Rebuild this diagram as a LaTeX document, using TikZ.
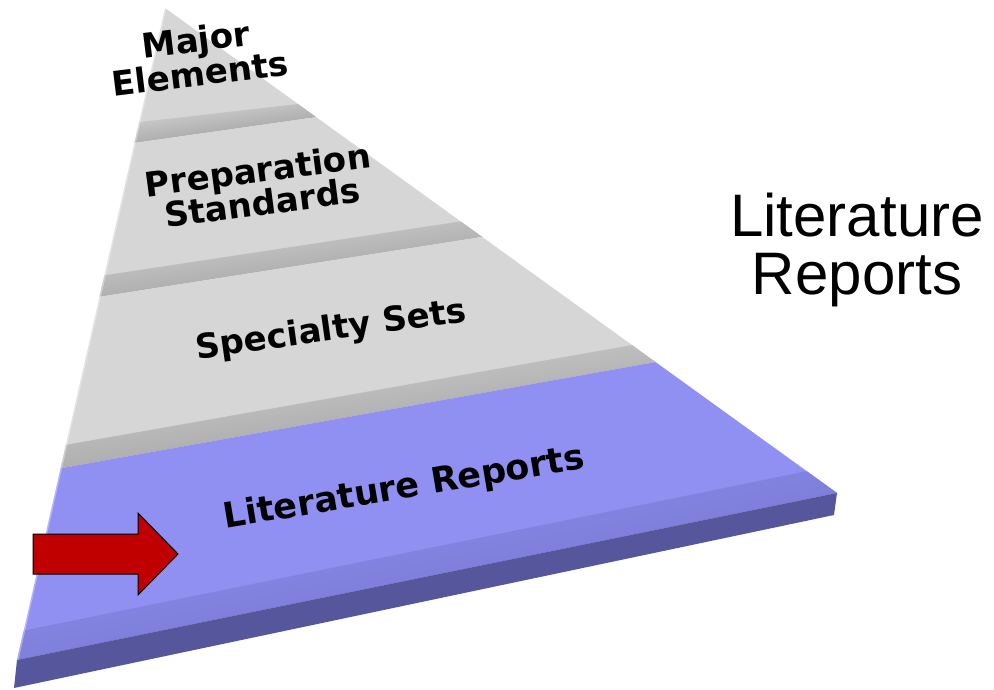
\documentclass[tikz,border=0pt]{standalone}
\usepackage{fontspec}
\setmainfont{Liberation Sans}
\newfontfamily\stepfont{DejaVu Sans}
\usetikzlibrary{calc}

\definecolor{facegray}{RGB}{214,214,214}
\definecolor{risergray}{RGB}{150,150,150}
\definecolor{faceblue}{RGB}{144,144,242}
\definecolor{bevelblue}{RGB}{112,112,200}
\definecolor{frontblue}{RGB}{86,86,156}
\definecolor{arrowred}{RGB}{192,0,0}

\tikzset{
  band/.style={fill=facegray, draw=none},
  riser/.style={top color=facegray, bottom color=risergray, shading angle=8, draw=none},
  steplabel/.style={font=\stepfont\bfseries\fontsize{34}{33}\selectfont, align=center, inner sep=0pt, text=black},
}

\begin{document}
\begin{tikzpicture}[x=1pt, y=-1pt]
\useasboundingbox (0,0) rectangle (994,690);
\coordinate (apex) at (165,8);
\coordinate (bl) at (17,660);
\coordinate (br) at (837,493);
\coordinate (bl2) at (14,688);
\coordinate (br2) at (834,515);

% grey steps: face from left/right top, riser from left/right start, down to left/right edge
\foreach \la/\ra/\lb/\rb/\lc/\rc in {0/0/0.175/0.198/0.207/0.225, 0.207/0.225/0.41/0.44/0.443/0.472, 0.443/0.472/0.67/0.695/0.706/0.73}{
	\fill[band] ($(apex)!\la!(bl)$)--($(apex)!\lc!(bl)$)--($(apex)!\rc!(br)$)--($(apex)!\ra!(br)$)--cycle;
	\shade[riser] ($(apex)!\lb!(bl)$)--($(apex)!\lc!(bl)$)--($(apex)!\rc!(br)$)--($(apex)!\rb!(br)$)--cycle;
}

% blue step
\fill[faceblue] ($(apex)!0.706!(bl)$)--(bl)--(br)--($(apex)!0.73!(br)$)--cycle;
\shade[top color=faceblue, bottom color=bevelblue, shading angle=12] ($(apex)!0.955!(bl)$)--(bl)--(br)--($(apex)!0.955!(br)$)--cycle;
\fill[frontblue] (bl)--(br)--(br2)--(bl2)--cycle;

% left edge highlight
\draw[white, opacity=0.35, line width=3pt] (apex)--(bl);

\node[steplabel, rotate=7] (major) at (198,56) {Major\\Elements};
\node[steplabel, rotate=7.5] (prep) at (260,186) {Preparation\\Standards};
\node[steplabel, rotate=8] (spec) at (331,331) {Specialty Sets};
\node[steplabel, rotate=9.5, font=\stepfont\bfseries\fontsize{35}{35}\selectfont] (lit) at (404,489) {Literature Reports};

% red arrow
\draw[black, line width=1pt, fill=arrowred] (33,534)--(138,534)--(138,513)--(178,554)--(138,595)--(138,574)--(33,574)--cycle;

\node[align=center, inner sep=0pt, font=\fontsize{60}{58}\selectfont] (title) at (857,250) {Literature\\Reports};
\end{tikzpicture}
\end{document}
